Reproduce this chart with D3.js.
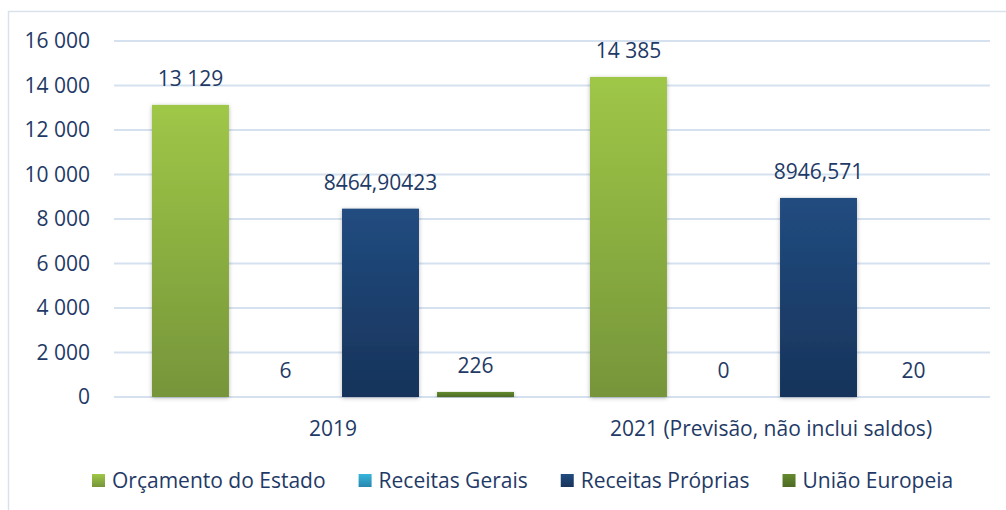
<!DOCTYPE html>
<html lang="pt">
<head>
    <meta charset="utf-8">
    <title>Receitas</title>
    <script src="https://d3js.org/d3.v7.min.js"></script>
    <style>
        html, body { margin: 0; padding: 0; background: #fff; }
        * { font-family: "Open Sans", sans-serif; }
        .label { fill: #1f3a66; font-size: 21px; }
        .grid line { stroke: #d5e1ef; stroke-width: 2px; }
    </style>
</head>
<body>
<svg class="bar-chart"></svg>
<script>
    // data
    const groups = ["2019", "2021 (Previsão, não inclui saldos)"];
    const series = ["Orçamento do Estado", "Receitas Gerais", "Receitas Próprias", "União Europeia"];
    const values = [
        [13129, 6, 8464.90423, 226],
        [14385, 0, 8946.571, 20]
    ];
    const valueLabels = [
        ["13 129", "6", "8464,90423", "226"],
        ["14 385", "0", "8946,571", "20"]
    ];
    const yTicks = [0, 2000, 4000, 6000, 8000, 10000, 12000, 14000, 16000];

    // gradient colors per series (top, bottom)
    const colors = [
        ["#9fc747", "#76953a"],
        ["#38b6dc", "#2886ad"],
        ["#214c80", "#17335a"],
        ["#648a2e", "#4d6a24"]
    ];

    const width = 1006, height = 510;
    const svg = d3.select("svg.bar-chart")
        .attr("width", width)
        .attr("height", height);

    const loc = d3.formatLocale({decimal: ",", thousands: " ", grouping: [3], currency: ["", ""]});
    const fmt = loc.format(",d");

    // frame
    svg.append("path")
        .attr("d", "M8.5,510V11.5H1006")
        .attr("fill", "none")
        .attr("stroke", "#d9e2ec")
        .attr("stroke-width", 1.5);

    const defs = svg.append("defs");
    colors.forEach(function(c, i) {
        const g = defs.append("linearGradient").attr("id", "grad" + i)
            .attr("x1", 0).attr("y1", 0).attr("x2", 0).attr("y2", 1);
        g.append("stop").attr("offset", "0%").attr("stop-color", c[0]);
        g.append("stop").attr("offset", "100%").attr("stop-color", c[1]);
    });
    defs.append("filter").attr("id", "shadow")
        .attr("x", "-20%").attr("y", "-5%").attr("width", "140%").attr("height", "110%")
        .append("feDropShadow")
        .attr("dx", 0).attr("dy", 1).attr("stdDeviation", 2)
        .attr("flood-color", "#000").attr("flood-opacity", 0.28);

    // scales
    const y = d3.scaleLinear().domain([0, 16000]).range([397, 41]);
    const x0 = d3.scaleBand().domain(groups).range([114, 990]);
    const x1 = d3.scaleBand().domain(series).range([38, x0.bandwidth() - 38]).paddingInner(0.19);

    // gridlines
    svg.append("g").attr("class", "grid")
        .selectAll("line")
        .data(yTicks)
        .join("line")
        .attr("x1", 114).attr("x2", 990)
        .attr("y1", d => y(d)).attr("y2", d => y(d));

    // y tick labels
    svg.append("g")
        .selectAll("text")
        .data(yTicks)
        .join("text")
        .attr("class", "label")
        .attr("x", 90)
        .attr("y", d => y(d))
        .attr("dy", "0.35em")
        .attr("text-anchor", "end")
        .text(d => fmt(d));

    // bars
    groups.forEach(function(grp, gi) {
        const g = svg.append("g").attr("transform", `translate(${x0(grp)},0)`);
        series.forEach(function(s, si) {
            const v = values[gi][si];
            const h = y(0) - y(v);
            if (h >= 1) {
                g.append("rect")
                    .attr("x", x1(s))
                    .attr("width", x1.bandwidth())
                    .attr("y", y(v))
                    .attr("height", h)
                    .attr("fill", `url(#grad${si})`)
                    .attr("filter", "url(#shadow)");
            }
            g.append("text").attr("class", "label")
                .attr("x", x1(s) + x1.bandwidth() / 2)
                .attr("y", y(v) - 19)
                .attr("text-anchor", "middle")
                .text(valueLabels[gi][si]);
        });
        // category label
        svg.append("text").attr("class", "label")
            .attr("x", x0(grp) + x0.bandwidth() / 2)
            .attr("y", 436)
            .attr("text-anchor", "middle")
            .text(grp);
    });

    // legend
    const legend = svg.append("g").attr("transform", "translate(92,481)");
    let lx = 0;
    series.forEach(function(s, si) {
        const item = legend.append("g").attr("transform", `translate(${lx},0)`);
        item.append("rect")
            .attr("x", 0).attr("y", -7)
            .attr("width", 13).attr("height", 13)
            .attr("fill", `url(#grad${si})`);
        const t = item.append("text").attr("class", "label")
            .attr("x", 20).attr("y", 0).attr("dy", "0.35em")
            .text(s);
        lx += 20 + t.node().getComputedTextLength() + 33;
    });
</script>
</body>
</html>
